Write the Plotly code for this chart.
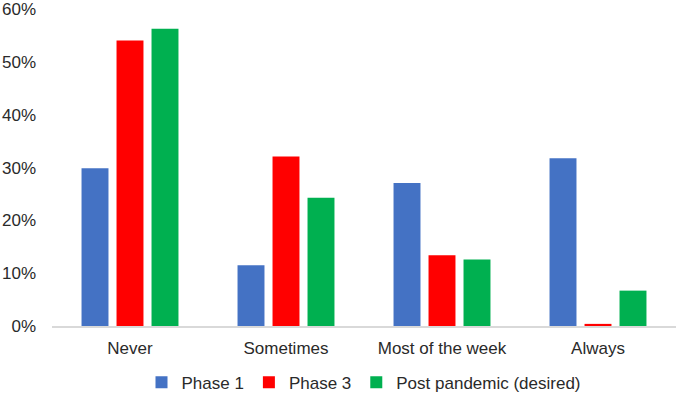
import plotly.graph_objects as go

categories = ["Never", "Sometimes", "Most of the week", "Always"]
phase1 = [0.299, 0.115, 0.271, 0.318]
phase3 = [0.541, 0.321, 0.134, 0.004]
post_pandemic = [0.563, 0.243, 0.126, 0.067]
series_names = ["Phase 1", "Phase 3", "Post pandemic (desired)"]
colors = ["#4472C4", "#FF0000", "#00B050"]
tick_vals = [0, 0.1, 0.2, 0.3, 0.4, 0.5, 0.6]
tick_text = ["0%", "10%", "20%", "30%", "40%", "50%", "60%"]

fig = go.Figure()
for name, vals, col in zip(series_names, [phase1, phase3, post_pandemic], colors):
    fig.add_trace(go.Bar(x=categories, y=vals, name=name, marker=dict(color=col, line=dict(width=0))))

fig.update_layout(
    width=679, height=398,
    margin=dict(l=52, r=3, t=4, b=72, autoexpand=False),
    paper_bgcolor="white", plot_bgcolor="white",
    barmode="group", bargap=0.327, bargroupgap=0.23,
    font=dict(family="Liberation Sans, Arial, sans-serif", size=17, color="#2a2a2a"),
    showlegend=True,
    legend=dict(orientation="h", x=0.5, xanchor="center", y=-0.12, yanchor="top",
                font=dict(size=17, color="#2a2a2a"), itemwidth=30, traceorder="normal"),
    xaxis=dict(showgrid=False, showline=True, linecolor="#D9D9D9", linewidth=1.5,
               ticks="", ticklabelstandoff=6, tickfont=dict(size=17)),
    yaxis=dict(range=[0, 0.61], tickvals=tick_vals, ticktext=tick_text, showgrid=False,
               zeroline=False, showline=False, ticks="", ticklabelstandoff=15,
               tickfont=dict(size=17)),
)

fig.write_html("out.html", config={"displayModeBar": False},
               post_script="document.body.style.margin='0';")
